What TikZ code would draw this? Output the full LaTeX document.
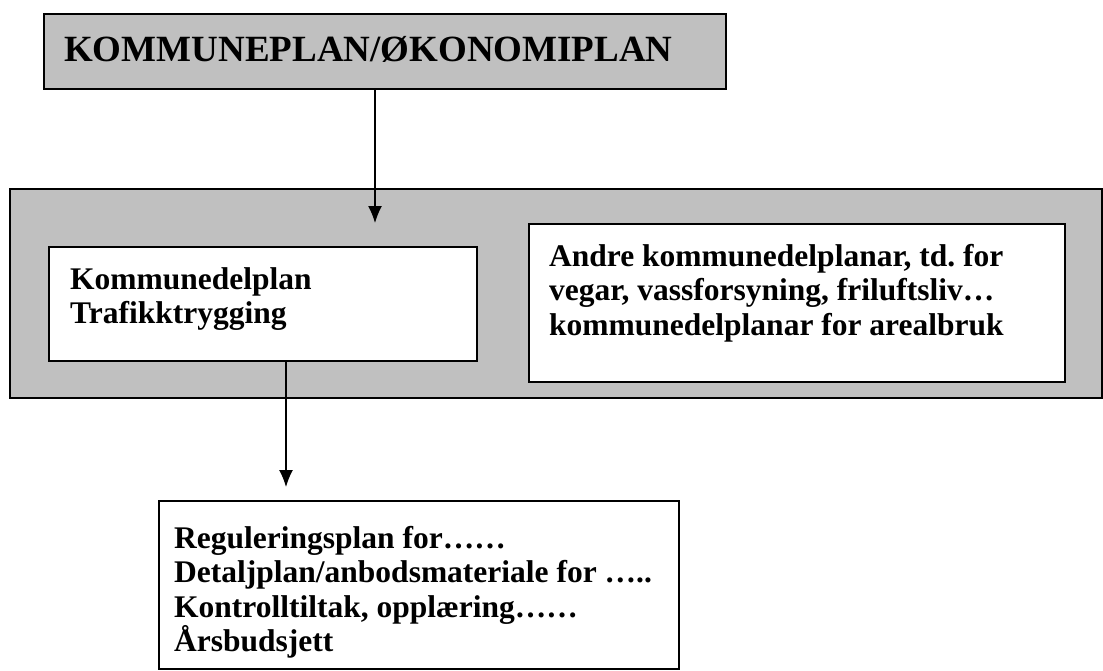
\documentclass[tikz,border=0pt]{standalone}
\usepackage{fontspec}
\setmainfont{Liberation Serif}
\usetikzlibrary{arrows.meta,shadows}
\definecolor{boxgray}{HTML}{C0C0C0}
\frenchspacing
\begin{document}
\begin{tikzpicture}[x=1pt,y=-1pt,
  box/.style={draw=black, line width=1.6pt, inner sep=0pt, anchor=north west,
    drop shadow={shadow xshift=1.6pt, shadow yshift=-1.6pt, fill=gray, opacity=0.7}},
  graybox/.style={box, fill=boxgray},
  whitebox/.style={box, fill=white},
  bigtxt/.style={anchor=north west, inner sep=0pt, font=\bfseries\fontsize{37}{40}\selectfont},
  txt/.style={anchor=north west, inner sep=0pt, align=left, font=\bfseries\fontsize{31.5}{34.5}\selectfont},
  arr/.style={-{Latex[length=17pt,width=14pt]}, line width=1.3pt}]
\useasboundingbox (0,0) rectangle (1103,670);
% boxes
\node[graybox, minimum width=682pt, minimum height=75pt] (top) at (43,13) {};
\node[graybox, minimum width=1092pt, minimum height=209pt] (big) at (9,188) {};
\node[whitebox, minimum width=428pt, minimum height=114pt] (left) at (48,246) {};
\node[whitebox, minimum width=536pt, minimum height=158pt] (right) at (528,223) {};
\node[whitebox, minimum width=520pt, minimum height=168pt] (bottom) at (158,500) {};
% texts
\node[bigtxt] (toptxt) at (64,36) {KOMMUNEPLAN/ØKONOMIPLAN};
\node[txt] (lefttxt) at (70,267) {Kommunedelplan\\Trafikktrygging};
\node[txt] (righttxt) at (549,244) {Andre kommunedelplanar, td. for\\vegar, vassforsyning, friluftsliv…\\kommunedelplanar for arealbruk};
\node[txt] (bottomtxt) at (174,526) {Reguleringsplan for……\\Detaljplan/anbodsmateriale for …..\\Kontrolltiltak, opplæring……\\Årsbudsjett};
% connectors
\coordinate (a1end) at (375,223);
\coordinate (a2end) at (286,487);
\draw[arr] (top.south -| a1end) -- (a1end);
\draw[arr] (left.south -| a2end) -- (a2end);
\end{tikzpicture}
\end{document}
